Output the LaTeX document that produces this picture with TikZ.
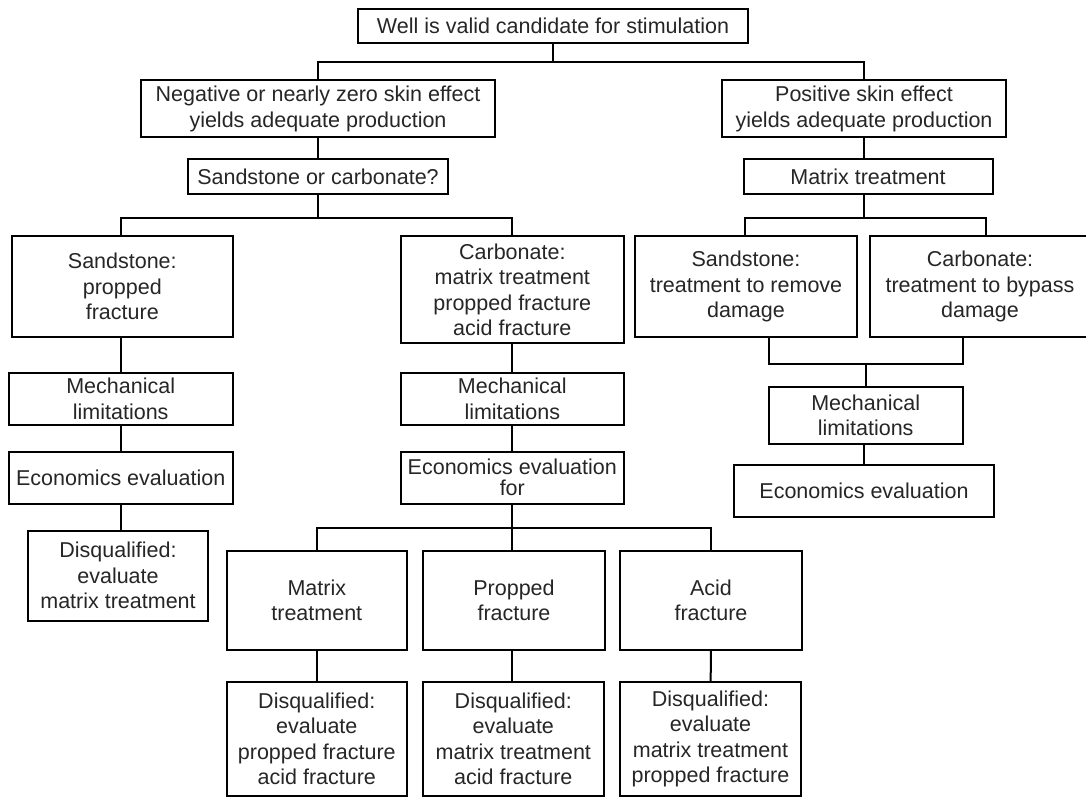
\documentclass[tikz,border=0pt]{standalone}
\usepackage{fontspec}
\setmainfont{Liberation Sans}
\begin{document}
\begin{tikzpicture}[x=1pt,y=-1pt,
  every node/.style={font=\fontsize{21.5}{25.5}\selectfont},
  box/.style={draw=black, line width=2pt, rectangle, inner sep=0pt, align=center, text=black!85},
  conn/.style={draw=black, line width=2pt, line join=miter}]
\path[fill=white, use as bounding box] (0,0) rectangle (1086,798);
% nodes
\node[box, minimum width=390, minimum height=34] (top) at (553,26.3) {Well is valid candidate for stimulation};
\node[box, minimum width=354, minimum height=57] (neg) at (318,108.8) {Negative or nearly zero skin effect\\yields adequate production};
\node[box, minimum width=284, minimum height=57] (pos) at (864,108.8) {Positive skin effect\\yields adequate production};
\node[box, minimum width=260, minimum height=35] (sorc) at (318,176.8) {Sandstone or carbonate?};
\node[box, minimum width=249, minimum height=35] (mtx) at (868,176.8) {Matrix treatment};
\node[box, minimum width=221, minimum height=101.3] (ss) at (122.3,286.7) {Sandstone:\\propped\\fracture};
\node[box, minimum width=222.4, minimum height=107.3] (carb) at (512.3,289.7) {Carbonate:\\matrix treatment\\propped fracture\\acid fracture};
\node[box, minimum width=222, minimum height=101.3] (ssr) at (746,286.7) {Sandstone:\\treatment to remove\\damage};
\node[box, minimum width=220, minimum height=101.3] (cbr) at (980,286.7) {Carbonate:\\treatment to bypass\\damage};
\node[box, minimum width=224, minimum height=52.3] (mechL) at (120.7,398.8) {Mechanical\\limitations};
\node[box, minimum width=223.4, minimum height=52.3] (mechC) at (512.3,398.8) {Mechanical\\limitations};
\node[box, minimum width=224, minimum height=52.3] (econL) at (120.7,477.8) {Economics evaluation};
\node[box, minimum width=223.4, minimum height=52.3, font=\fontsize{21.5}{21}\selectfont] (econC) at (512.3,477.8) {Economics evaluation\\for};
\node[box, minimum width=179.4, minimum height=90] (disL) at (118,575.7) {Disqualified:\\evaluate\\matrix treatment};
\node[box, minimum width=194, minimum height=57.3] (mechR) at (865.7,415.3) {Mechanical\\limitations};
\node[box, minimum width=260, minimum height=52.3] (econR) at (864,491.2) {Economics evaluation};
\node[box, minimum width=180, minimum height=99.3] (mt) at (316.8,600.3) {Matrix\\treatment};
\node[box, minimum width=182, minimum height=99.3] (pf) at (514,600.3) {Propped\\fracture};
\node[box, minimum width=182, minimum height=99.3] (af) at (711,600.3) {Acid\\fracture};
\node[box, minimum width=180, minimum height=114] (dmt) at (316.8,738.8) {Disqualified:\\evaluate\\propped fracture\\acid fracture};
\node[box, minimum width=180.6, minimum height=114] (dpf) at (513.3,738.8) {Disqualified:\\evaluate\\matrix treatment\\acid fracture};
\node[box, minimum width=181, minimum height=114] (daf) at (710.5,738.8) {Disqualified:\\evaluate\\matrix treatment\\propped fracture};
% junction coordinates
\coordinate (j1) at (553,62.3);
\coordinate (j2) at (318,218.3);
\coordinate (lc) at (121,218.3);
\coordinate (j4) at (512.3,527.7);
\coordinate (j3) at (864,218.3);
\coordinate (sr) at (744.5,218.3);
\coordinate (cr) at (985.5,218.3);
\coordinate (b1) at (768.8,364);
\coordinate (b2) at (962.7,364);
% connectors
\draw[conn] (top.south) -- (top.south |- j1);
\draw[conn] (neg.north) |- (pos.north |- j1) -- (pos.north);
\draw[conn] (neg) -- (sorc);
\draw[conn] (pos) -- (pos |- mtx.north);
\draw[conn] (sorc.south) -- (j2);
\draw[conn] (ss.north -| lc) -- (lc) -- (carb.north |- j2) -- (carb.north);
\draw[conn] (ss.south -| lc) -- (mechL.north -| lc);
\draw[conn] (mechL.south -| lc) -- (econL.north -| lc);
\draw[conn] (econL.south -| lc) -- (disL.north -| lc);
\draw[conn] (carb) -- (mechC);
\draw[conn] (mechC) -- (econC);
\draw[conn] (econC.south) -- (j4);
\draw[conn] (mt.north) |- (af.north |- j4) -- (af.north);
\draw[conn] (j4) -- (pf.north -| j4);
\draw[conn] (mt) -- (dmt);
\draw[conn] (pf.south -| j4) -- (dpf.north -| j4);
\draw[conn] (af) -- (daf);
\draw[conn] (mtx.south -| j3) -- (j3);
\draw[conn] (ssr.north -| sr) -- (sr) -- (cr) -- (cbr.north -| cr);
\draw[conn] (ssr.south -| b1) -- (b1) -- (b2) -- (cbr.south -| b2);
\draw[conn] (mechR.north |- b1) -- (mechR.north);
\draw[conn] (mechR.south -| econR.north) -- (econR.north);
\end{tikzpicture}
\end{document}
